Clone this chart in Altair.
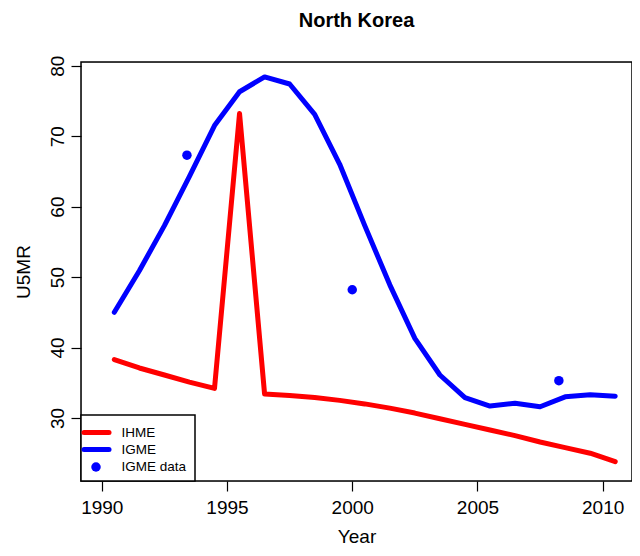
import altair as alt
import pandas as pd

# ---- data ----
years = [1990.5, 1991.5, 1992.5, 1993.5, 1994.5, 1995.5, 1996.5, 1997.5, 1998.5, 1999.5,
         2000.5, 2001.5, 2002.5, 2003.5, 2004.5, 2005.5, 2006.5, 2007.5, 2008.5, 2009.5, 2010.5]
ihme = [38.3, 37.1, 36.1, 35.1, 34.2, 73.2, 33.4, 33.2, 32.9, 32.5,
        32.0, 31.4, 30.7, 29.9, 29.1, 28.3, 27.5, 26.6, 25.8, 25.0, 23.8]
igme = [45.0, 50.9, 57.3, 64.3, 71.5, 76.3, 78.4, 77.4, 73.1, 66.0,
        57.3, 48.9, 41.3, 36.1, 32.9, 31.7, 32.1, 31.6, 33.0, 33.3, 33.1]
igme_data_years = [1993.4, 2000.0, 2008.25]
igme_data_vals = [67.3, 48.2, 35.3]

x_ticks = [1990, 1995, 2000, 2005, 2010]
y_ticks = [30, 40, 50, 60, 70, 80]
legend_labels = ["IHME", "IGME", "IGME data"]
legend_colors = ["#ff0000", "#0000ff", "#0000ff"]

FONT = "Liberation Sans"
W, H = 551, 419

df_ihme = pd.DataFrame({"year": years, "u5mr": ihme})
df_igme = pd.DataFrame({"year": years, "u5mr": igme})
df_pts = pd.DataFrame({"year": igme_data_years, "u5mr": igme_data_vals})

xscale = alt.Scale(domain=[1989.17, 2011.17], nice=False, zero=False)
yscale = alt.Scale(domain=[21.06, 80.52], nice=False, zero=False)

xaxis = alt.Axis(values=x_ticks, format="d", title="Year", grid=False, domain=False,
                 tickSize=10, tickColor="black", tickWidth=1.2,
                 labelFont=FONT, labelFontSize=19, labelColor="black",
                 labelPadding=7, labelBaseline="top", labelFlush=False,
                 titleFont=FONT, titleFontSize=19, titleFontWeight="normal",
                 titleColor="black", titleY=61, titleBaseline="alphabetic")
yaxis = alt.Axis(values=y_ticks, format="d", title="U5MR", grid=False, domain=False,
                 tickSize=10, tickColor="black", tickWidth=1.2,
                 labelFont=FONT, labelFontSize=19, labelColor="black",
                 labelAngle=270, labelAlign="center", labelBaseline="alphabetic",
                 labelPadding=7.7, labelFlush=False,
                 titleFont=FONT, titleFontSize=19, titleFontWeight="normal",
                 titleColor="black", titleAngle=270, titleX=-52,
                 titleBaseline="alphabetic", titleAlign="center")

x_enc = alt.X("year:Q", scale=xscale, axis=xaxis)
y_enc = alt.Y("u5mr:Q", scale=yscale, axis=yaxis)

red_line = alt.Chart(df_ihme).mark_line(color=legend_colors[0], strokeWidth=5,
                                        strokeCap="round", strokeJoin="round").encode(
    x=x_enc, y=y_enc)
blue_line = alt.Chart(df_igme).mark_line(color=legend_colors[1], strokeWidth=5,
                                         strokeCap="round", strokeJoin="round").encode(
    x=alt.X("year:Q", scale=xscale), y=alt.Y("u5mr:Q", scale=yscale))
pts = alt.Chart(df_pts).mark_circle(color=legend_colors[2], size=90, opacity=1).encode(
    x=alt.X("year:Q", scale=xscale), y=alt.Y("u5mr:Q", scale=yscale))

# plot frame (base R box)
one = pd.DataFrame({"k": [0]})
frame = alt.Chart(one).mark_rect(fill=None, stroke="black", strokeWidth=1.5).encode(
    x=alt.value(0), x2=alt.value(W), y=alt.value(0), y2=alt.value(H))

# ---- hand-drawn legend (bottom-left, boxed, as in base R) ----
leg_box = alt.Chart(one).mark_rect(fill="white", stroke="black", strokeWidth=1.5).encode(
    x=alt.value(0), x2=alt.value(114), y=alt.value(353), y2=alt.value(H))
leg_rows = [370.5, 387.5, 405]
leg_layers = [leg_box]
for i, lab in enumerate(legend_labels):
    if i < 2:
        leg_layers.append(alt.Chart(one).mark_rule(color=legend_colors[i], strokeWidth=5,
                                                   strokeCap="round").encode(
            x=alt.value(3), x2=alt.value(28), y=alt.value(leg_rows[i])))
    else:
        leg_layers.append(alt.Chart(one).mark_circle(color=legend_colors[i], size=90,
                                                     opacity=1).encode(
            x=alt.value(15), y=alt.value(leg_rows[i])))
    leg_layers.append(alt.Chart(pd.DataFrame({"t": [lab]})).mark_text(
        align="left", baseline="middle", font=FONT, fontSize=13.5, color="black").encode(
        x=alt.value(40.5), y=alt.value(leg_rows[i]), text="t:N"))

chart = alt.layer(red_line, blue_line, pts, frame, *leg_layers).properties(
    width=W, height=H,
    title=alt.Title("North Korea", font=FONT, fontSize=20, fontWeight="bold",
                    color="black", anchor="middle", offset=8, baseline="alphabetic"),
    autosize=alt.AutoSizeParams(type="none"),
    padding={"left": 73, "top": 54, "right": 0, "bottom": 67},
).configure_view(stroke=None).configure(background="white")

chart.save("out.html", embed_options={"renderer": "svg", "actions": False})
